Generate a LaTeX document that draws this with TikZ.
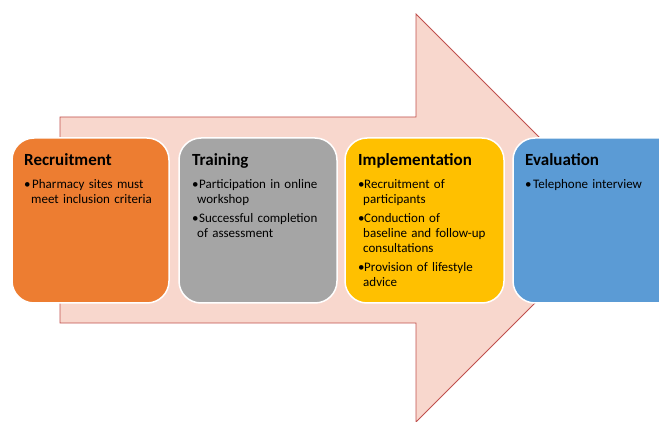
\documentclass[tikz,border=0pt]{standalone}
\usepackage{fontspec}
\setmainfont{Carlito}
\definecolor{arrowfill}{RGB}{248,215,205}
\definecolor{arrowline}{RGB}{192,80,77}
\definecolor{cOrange}{RGB}{237,125,49}
\definecolor{cGray}{RGB}{165,165,165}
\definecolor{cYellow}{RGB}{255,192,0}
\definecolor{cBlue}{RGB}{91,155,213}
\newcommand{\stagetitle}[1]{{\fontsize{17}{18}\selectfont\bfseries\rule{0pt}{12pt}#1\par}\vspace{4pt}}
\newcommand{\stageitem}[3]{\par\hangindent=#2\hangafter=1\noindent\makebox[#1][l]{\textbullet}#3\par}
\tikzset{
  stagebox/.style={draw=white, line width=1.5pt, rounded corners=22pt},
  stagetext/.style={anchor=north west, inner sep=0pt, text width=160pt,
    font=\fontsize{13}{15}\selectfont, execute at begin node={\raggedright\parskip=4pt}}
}
\begin{document}
\begin{tikzpicture}[x=1pt,y=-1pt]
\useasboundingbox (0,0) rectangle (659,422);
\clip (0,0) rectangle (659,422);
\draw[fill=arrowfill, draw=arrowline, line width=0.8pt]
  (60,117) -- (416,117) -- (416,14) -- (620,218) -- (416,422) -- (416,323) -- (60,323) -- cycle;
\path[stagebox, fill=cOrange] (12,138) rectangle (169,303);
\path[stagebox, fill=cGray] (179,138) rectangle (337,303);
\path[stagebox, fill=cYellow] (345,138) rectangle (504,303);
\path[stagebox, fill=cBlue] (513,138) rectangle (700,303);
\node[stagetext] (rec) at (24,153) {\stagetitle{Recruitment}\stageitem{8pt}{7pt}{Pharmacy sites must\newline meet inclusion criteria}};
\node[stagetext] (tra) at (192,153) {\stagetitle{Training}\stageitem{7pt}{5pt}{Participation in online\newline workshop}\stageitem{7pt}{5pt}{Successful completion\newline of assessment}};
\node[stagetext] (imp) at (358,153) {\stagetitle{Implementation}\stageitem{6pt}{5pt}{Recruitment of\newline participants}\stageitem{6pt}{5pt}{Conduction of\newline baseline and follow-up\newline consultations}\stageitem{6pt}{5pt}{Provision of lifestyle\newline advice}};
\node[stagetext] (eva) at (525,153) {\stagetitle{Evaluation}\stageitem{8pt}{7pt}{Telephone interview}};
\end{tikzpicture}
\end{document}
